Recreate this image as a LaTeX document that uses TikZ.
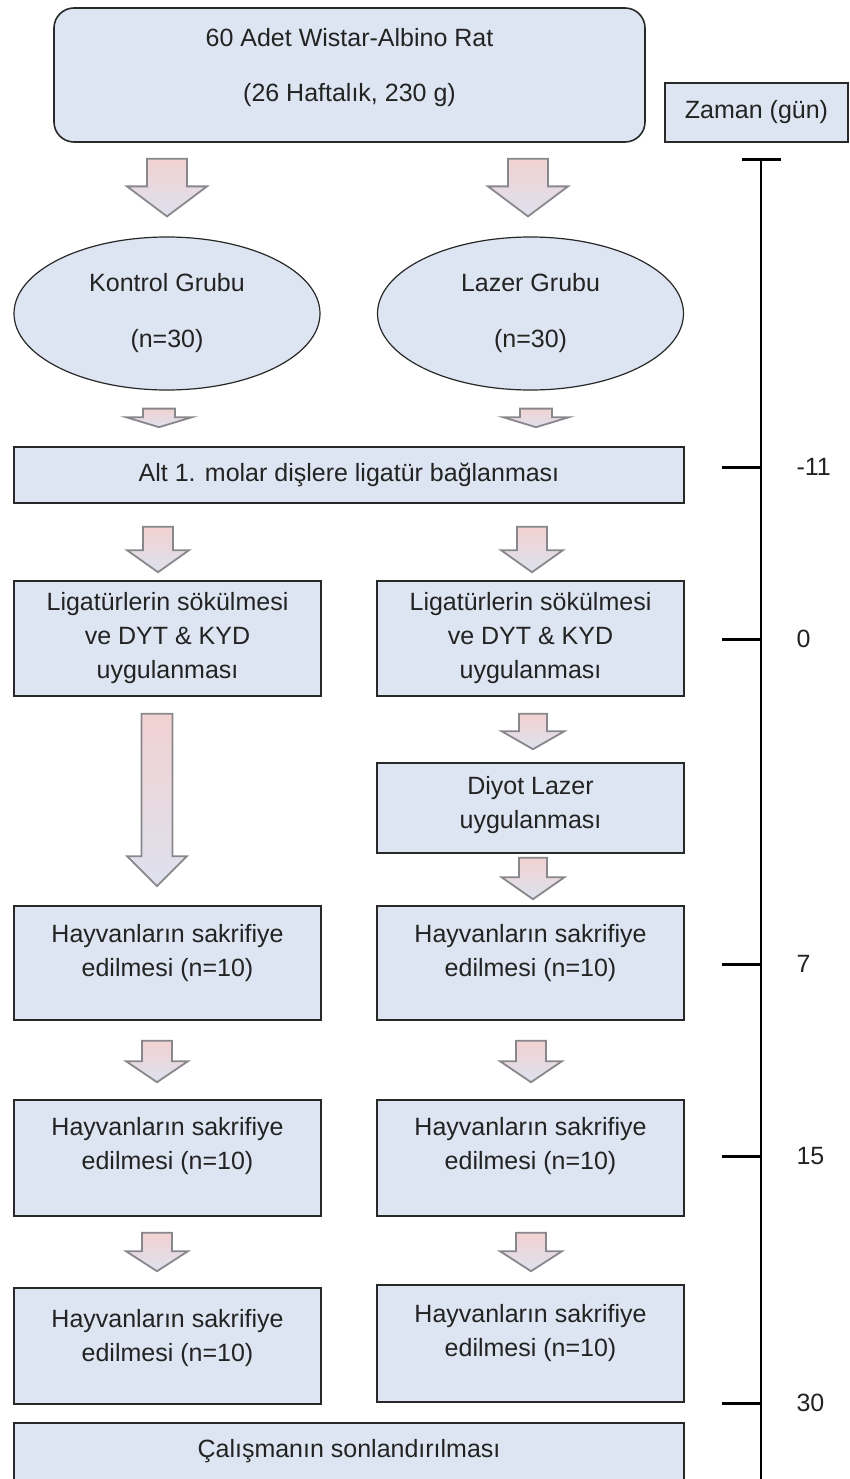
\documentclass[tikz,border=0pt]{standalone}
\usepackage{fontspec}
\setmainfont{Liberation Sans}
\usetikzlibrary{shapes.geometric,calc}

\definecolor{boxblue}{RGB}{220,229,241}
\definecolor{boxline}{RGB}{40,40,40}
\definecolor{arrowpink}{RGB}{242,210,210}
\definecolor{arrowblue}{RGB}{221,225,238}
\definecolor{arrowline}{RGB}{135,135,140}
\definecolor{txtgray}{RGB}{35,35,35}

% block arrow: x, from node, to node, gap below from, gap above to, shaft half, head half, head length
\newcommand{\fatarrow}[8]{%
	\path[fatarrow] let \p1=(#2.south), \p2=(#3.north) in
		({#1-#6},{\y1-#4pt}) -- ({#1+#6},{\y1-#4pt})
		-- ({#1+#6},{\y2+#5pt+#8pt}) -- ({#1+#7},{\y2+#5pt+#8pt})
		-- (#1,{\y2+#5pt}) -- ({#1-#7},{\y2+#5pt+#8pt})
		-- ({#1-#6},{\y2+#5pt+#8pt}) -- cycle;
}

\begin{document}
\begin{tikzpicture}[x=1pt, y=-1pt,
		every node/.style={font=\fontsize{25}{34}\selectfont, text=txtgray, align=center},
		stepbox/.style={draw=boxline, line width=1.6pt, fill=boxblue, minimum width=307, inner sep=0pt},
		widebox/.style={stepbox, minimum width=670},
		groupell/.style={ellipse, draw=boxline, line width=1.2pt, fill=boxblue, minimum width=306, minimum height=153, inner sep=0pt},
		fatarrow/.style={draw=arrowline, line width=1.8pt, line join=miter, top color=arrowpink, bottom color=arrowblue},
		tick/.style={line width=3pt},
		daylabel/.style={anchor=west}]
	\useasboundingbox (0,0) rectangle (850,1479);
	\clip (0,0) rectangle (850,1479);

	% start and groups
	\node[stepbox, rounded corners=20, minimum width=591, minimum height=134, text depth=20pt] (start) at (349.5,75)
		{60 Adet Wistar-Albino Rat\\[21pt](26 Haftalık, 230 g)};
	\node[stepbox, line width=1.3pt, minimum width=183, minimum height=59] (zaman) at (756.5,112.5) {Zaman (gün)};
	\node[groupell] (kontrol) at (167,313.5) {Kontrol Grubu\\[22pt](n=30)};
	\node[groupell] (lazer) at (530.5,313.5) {Lazer Grubu\\[22pt](n=30)};

	% common step
	\node[widebox, minimum height=56] (ligatur) at (349,475) {Alt 1. molar dişlere ligatür bağlanması};

	% control column
	\node[stepbox, minimum height=115] (k2) at (167.5,638.5) {Ligatürlerin sökülmesi\\ve DYT \& KYD\\uygulanması};
	\node[stepbox, minimum height=114, text depth=26pt] (k3) at (167.5,963) {Hayvanların sakrifiye\\edilmesi (n=10)};
	\node[stepbox, minimum height=116, text depth=30pt] (k4) at (167.5,1158) {Hayvanların sakrifiye\\edilmesi (n=10)};
	\node[stepbox, minimum height=116, text depth=22pt] (k5) at (167.5,1346) {Hayvanların sakrifiye\\edilmesi (n=10)};

	% laser column
	\node[stepbox, minimum height=115] (l2) at (530.5,638.5) {Ligatürlerin sökülmesi\\ve DYT \& KYD\\uygulanması};
	\node[stepbox, minimum height=90, text depth=12pt] (diyot) at (530.5,808) {Diyot Lazer\\uygulanması};
	\node[stepbox, minimum height=114, text depth=26pt] (l3) at (530.5,963) {Hayvanların sakrifiye\\edilmesi (n=10)};
	\node[stepbox, minimum height=116, text depth=30pt] (l4) at (530.5,1158) {Hayvanların sakrifiye\\edilmesi (n=10)};
	\node[stepbox, minimum height=117, text depth=26pt] (l5) at (530.5,1343.5) {Hayvanların sakrifiye\\edilmesi (n=10)};

	\node[widebox, minimum height=64, text depth=14pt] (son) at (349,1455) {Çalışmanın sonlandırılması};

	% arrows
	\fatarrow{167}{start}{kontrol}{16}{20}{20}{40}{30}
	\fatarrow{528}{start}{lazer}{16}{20}{20}{40}{30}
	\fatarrow{159}{kontrol}{ligatur}{18}{19}{16}{33}{10}
	\fatarrow{536}{lazer}{ligatur}{18}{19}{16}{33}{10}
	\fatarrow{158}{ligatur}{k2}{23}{8}{15}{31}{22}
	\fatarrow{532}{ligatur}{l2}{23}{8}{15}{31}{22}
	\fatarrow{157}{k2}{k3}{17}{19}{15.5}{30}{30}
	\fatarrow{533}{l2}{diyot}{17}{13}{14}{31.5}{18}
	\fatarrow{533}{diyot}{l3}{4}{6}{14}{31.5}{22}
	\fatarrow{157}{k3}{k4}{20}{17}{15}{31}{21}
	\fatarrow{531}{l3}{l4}{20}{17}{15}{31}{21}
	\fatarrow{157}{k4}{k5}{16}{16}{15}{31}{20}
	\fatarrow{531}{l4}{l5}{16}{13}{15}{31}{20}

	% time line
	\coordinate (tltop) at (761,160);
	\coordinate (tlbot) at (761,1479);
	\draw[line width=2pt] (tltop) -- (tlbot);
	\draw[tick] ($(tltop)+(-19,0)$) -- ($(tltop)+(20,0)$);
	\foreach \ty/\tl [count=\i] in {467/-11, 639/0, 964/7, 1156/15, 1403/30}{
		\draw[tick] (722,\ty) -- (tltop |- 0,\ty);
		\node[daylabel] (day\i) at (793,\ty) {\tl};
	}
\end{tikzpicture}
\end{document}
